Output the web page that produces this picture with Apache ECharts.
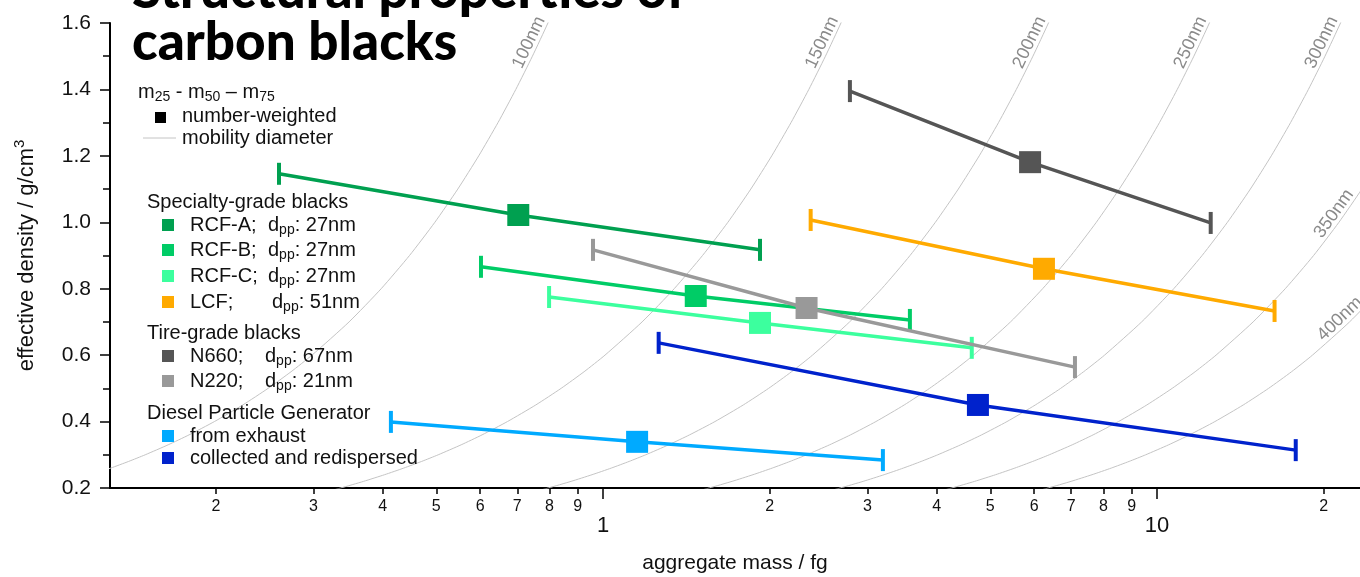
<!DOCTYPE html>
<html><head><meta charset="utf-8">
<script src="https://cdn.jsdelivr.net/npm/echarts@6/dist/echarts.min.js"></script>
<style>html,body{margin:0;padding:0;background:#fff}#c{width:1360px;height:577px}</style>
</head><body><div id="c"></div>
<script>
// ---------- data ----------
const seriesNames = ['RCF-A', 'RCF-B', 'RCF-C', 'LCF', 'N660', 'N220', 'from exhaust', 'collected and redispersed'];
const primaryParticleDiameter = [27, 27, 27, 51, 67, 21, null, null]; // nm
// aggregate mass (fg) at m25, m50, m75
const mass25 = [0.260, 0.602, 0.799, 2.37, 2.79, 0.959, 0.414, 1.26];
const mass50 = [0.703, 1.47, 1.92, 6.25, 5.90, 2.33, 1.152, 4.75];
const mass75 = [1.92, 3.58, 4.63, 16.3, 12.5, 7.11, 3.20, 17.8];
// effective density (g/cm3) at m25, m50, m75
const density25 = [1.146, 0.866, 0.775, 1.007, 1.395, 0.917, 0.399, 0.637];
const density50 = [1.022, 0.778, 0.697, 0.860, 1.181, 0.742, 0.339, 0.450];
const density75 = [0.917, 0.706, 0.622, 0.733, 0.998, 0.564, 0.284, 0.314];
// mobility-diameter reference lines: mass (fg) at an effective density of 1 g/cm3
const mobilityDiameters = [100, 150, 200, 250, 300, 350, 400]; // nm
const mobilityMassAtUnitDensity = [0.497, 1.68, 3.98, 7.77, 13.4, 21.3, 31.8];
const curveDensities = [0.15, 0.18, 0.2, 0.22, 0.24, 0.26, 0.28, 0.3, 0.33, 0.36, 0.4, 0.45, 0.5, 0.55, 0.6, 0.7, 0.8, 0.9, 1.0, 1.1, 1.2, 1.3, 1.4, 1.5, 1.6, 1.7];
// axis tick labels
const xMinorTickValues = [0.2, 0.3, 0.4, 0.5, 0.6, 0.7, 0.8, 0.9, 2, 3, 4, 5, 6, 7, 8, 9, 20];
const xMinorTickLabels = ['2', '3', '4', '5', '6', '7', '8', '9', '2', '3', '4', '5', '6', '7', '8', '9', '2'];
const xMajorTickValues = [1, 10];
const xMajorTickLabels = ['1', '10'];

// ---------- styles ----------
const colors = ['#00A050', '#00CC66', '#3CFF9E', '#FFAA00', '#555555', '#999999', '#00AAFF', '#0022CC'];
const FONT = 'Liberation Sans';
const X_MIN = 0.1288, X_MAX = 23.25;

const chart = echarts.init(document.getElementById('c'), null, { renderer: 'canvas' });

const curveSeries = mobilityDiameters.map((d, i) => ({
  name: d + 'nm', type: 'line', silent: true, symbol: 'none', smooth: 0.2,
  lineStyle: { color: '#c4c4c4', width: 1 }, z: 1,
  data: curveDensities.map(r => [mobilityMassAtUnitDensity[i] * r, r])
}));

const dataSeries = seriesNames.map((n, i) => ({
  name: n, type: 'line', z: 3 + i, symbol: 'rect', showAllSymbol: true,
  lineStyle: { color: colors[i], width: 3.5 },
  itemStyle: { color: colors[i] },
  data: [
    { value: [mass25[i], density25[i]], symbolSize: [4, 22] },
    { value: [mass50[i], density50[i]], symbolSize: [22, 22] },
    { value: [mass75[i], density75[i]], symbolSize: [4, 22] }
  ]
}));

const labelFor = (v, vals, labs) => {
  let best = 0, bd = Infinity;
  vals.forEach((x, k) => { const d = Math.abs(Math.log(x) - Math.log(v)); if (d < bd) { bd = d; best = k; } });
  return labs[best];
};

const option = {
  animation: false,
  backgroundColor: '#fff',
  grid: { left: 110, right: 0, top: 23, bottom: 89, containLabel: false, outerBoundsMode: 'none' },
  xAxis: [{
    type: 'log', logBase: 10, min: X_MIN, max: X_MAX, position: 'bottom',
    name: 'aggregate mass / fg', nameLocation: 'middle', nameGap: 65,
    nameTextStyle: { fontFamily: FONT, fontSize: 21, color: '#111' },
    axisLine: { show: true, onZero: false, lineStyle: { color: '#000', width: 2 } },
    axisTick: { show: true, inside: false, length: 6, customValues: xMinorTickValues, lineStyle: { color: '#000', width: 1.5 } },
    axisLabel: { show: true, customValues: xMinorTickValues, margin: 11, fontFamily: FONT, fontSize: 16, color: '#111',
      formatter: v => labelFor(v, xMinorTickValues, xMinorTickLabels) },
    splitLine: { show: false }, minorTick: { show: false }
  }, {
    type: 'log', logBase: 10, min: X_MIN, max: X_MAX, position: 'bottom', gridIndex: 0,
    axisLine: { show: false },
    axisTick: { show: true, inside: false, length: 11, customValues: xMajorTickValues, lineStyle: { color: '#000', width: 1.5 } },
    axisLabel: { show: true, customValues: xMajorTickValues, margin: 27, fontFamily: FONT, fontSize: 22, color: '#111',
      formatter: v => labelFor(v, xMajorTickValues, xMajorTickLabels) },
    splitLine: { show: false }
  }],
  yAxis: {
    type: 'value', min: 0.2, max: 1.6, interval: 0.2,
    name: 'effective density / g/cm{sup|3}', nameLocation: 'middle', nameGap: 68, nameRotate: 90,
    nameTextStyle: { fontFamily: FONT, fontSize: 22, color: '#111', lineHeight: 30,
      rich: { sup: { fontFamily: FONT, fontSize: 15, lineHeight: 8, verticalAlign: 'top', color: '#111' } } },
    axisLine: { show: true, lineStyle: { color: '#000', width: 2 } },
    axisTick: { show: true, inside: false, length: 10, lineStyle: { color: '#000', width: 1.5 } },
    minorTick: { show: true, splitNumber: 2, length: 7, lineStyle: { color: '#000', width: 1.5 } },
    axisLabel: { margin: 19, fontFamily: FONT, fontSize: 21, color: '#111', formatter: v => v.toFixed(1) },
    splitLine: { show: false }
  },
  series: curveSeries.concat(dataSeries)
};
chart.setOption(option);

// ---------- overlay texts (legend, title, curve labels) ----------
const g = [];
const LEG = 20;
const T = (x, y, text, extra) => g.push({
  type: 'text', x, y, z: 100,
  style: Object.assign({ text, fontFamily: FONT, fontSize: LEG, fill: '#111', verticalAlign: 'middle', align: 'left' }, extra || {})
});
const subRich = {
  b: { fontFamily: FONT, fontSize: LEG, lineHeight: 24, fill: '#111' },
  s: { fontFamily: FONT, fontSize: 14, lineHeight: 9, verticalAlign: 'bottom', fill: '#111' }
};
// title
g.push({ type: 'text', x: 132, y: -9, z: 100, style: { text: 'Structural properties of', fontFamily: 'Lato', fontWeight: 900, fontSize: 53, fill: '#000', verticalAlign: 'middle' } });
g.push({ type: 'text', x: 132, y: 43, z: 100, style: { text: 'carbon blacks', fontFamily: 'Lato', fontWeight: 900, fontSize: 53, fill: '#000', verticalAlign: 'middle' } });
// key
T(138, 92, '{b|m}{s|25}{b| - m}{s|50}{b| \u2013 m}{s|75}', { rich: subRich });
g.push({ type: 'rect', z: 100, shape: { x: 155, y: 112, width: 11, height: 11 }, style: { fill: '#000' } });
T(182, 116, 'number-weighted');
g.push({ type: 'line', z: 100, shape: { x1: 143, y1: 138, x2: 176, y2: 138 }, style: { stroke: '#c4c4c4', lineWidth: 1 } });
T(182, 138, 'mobility diameter');
T(147, 202, 'Specialty-grade blacks');
T(147, 333, 'Tire-grade blacks');
T(147, 413, 'Diesel Particle Generator');
const rowY = [225, 250, 276, 302, 356, 381, 436, 458];
const dppX = [268, 268, 268, 272, 265, 265];
seriesNames.forEach((n, i) => {
  g.push({ type: 'rect', z: 100, shape: { x: 162, y: rowY[i] - 6, width: 12, height: 12 }, style: { fill: colors[i] } });
  if (primaryParticleDiameter[i] != null) {
    T(190, rowY[i], n + ';');
    T(dppX[i], rowY[i], '{b|d}{s|pp}{b|: ' + primaryParticleDiameter[i] + 'nm}', { rich: subRich });
  } else {
    T(190, rowY[i], n);
  }
});
// mobility diameter labels, placed along each curve
const labelDensity = [1.53, 1.53, 1.53, 1.53, 1.53, 1.01, 0.69];
mobilityDiameters.forEach((d, i) => {
  const r = labelDensity[i];
  const p = chart.convertToPixel({ xAxisIndex: 0, yAxisIndex: 0 }, [mobilityMassAtUnitDensity[i] * r, r]);
  const q = chart.convertToPixel({ xAxisIndex: 0, yAxisIndex: 0 }, [mobilityMassAtUnitDensity[i] * (r + 0.01), r + 0.01]);
  const ang = Math.atan2(-(q[1] - p[1]), q[0] - p[0]);
  g.push({ type: 'text', x: p[0], y: p[1], rotation: ang, z: 50,
    style: { text: d + 'nm', fontFamily: FONT, fontSize: 18, fill: '#8a8a8a', align: 'center', verticalAlign: 'bottom' } });
});
chart.setOption({ graphic: g });
</script></body></html>
